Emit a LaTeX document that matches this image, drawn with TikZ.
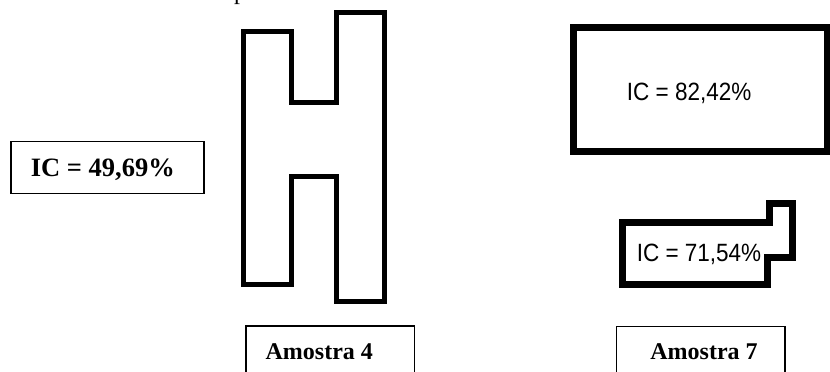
\documentclass[tikz,border=0pt]{standalone}
\usepackage{fontspec}
\setmainfont{Liberation Serif}
\newfontfamily\arialf{Liberation Sans}
\begin{document}
\begin{tikzpicture}[x=1pt,y=-1pt,
  thinbox/.style={draw=black,line width=1.3pt,inner sep=0pt,fill=none},
  serlab/.style={font=\bfseries\fontsize{24}{28}\selectfont,inner sep=0pt,anchor=base},
  sanslab/.style={font=\arialf\fontsize{25}{29}\selectfont,inner sep=0pt,anchor=base,xscale=0.9},
  shapeline/.style={draw=black,line join=miter}]
\useasboundingbox (0,0) rectangle (830,372);
\clip (0,0) rectangle (830,372);
% partial text at top
\node[font=\fontsize{24}{28}\selectfont,inner sep=0pt,anchor=base] (ptxt) at (240,-0.5) {p};
% H shape (Amostra 4)
\draw[shapeline,line width=5pt] (243.5,31) -- (291.5,31) -- (291.5,102.5) -- (336.5,102.5)
  -- (336.5,12.3) -- (384.5,12.3) -- (384.5,301.5) -- (336.5,301.5) -- (336.5,176.5)
  -- (291.5,176.5) -- (291.5,284.5) -- (243.5,284.5) -- cycle;
% IC 49,69 box
\node[thinbox,minimum width=193pt,minimum height=52pt] (box49) at (107.5,167.2) {};
\node[serlab,font=\bfseries\fontsize{26.5}{30}\selectfont] (t49) at (102.8,176.7) {IC = 49,69\%};
% Amostra boxes
\node[thinbox,minimum width=168.3pt,minimum height=60pt] (boxA4) at (330.2,356) {};
\node[serlab] (tA4) at (319.3,359.3) {Amostra 4};
\node[thinbox,minimum width=168.3pt,minimum height=60pt] (boxA7) at (700.9,356.7) {};
\node[serlab] (tA7) at (704,359.3) {Amostra 7};
% big rectangle (Amostra 7)
\draw[shapeline,line width=7.5pt] (573.3,27.5) rectangle (828,151.4);
\node[sanslab] (t82) at (689.2,100) {IC = 82,42\%};
% small stepped shape
\draw[shapeline,line width=7pt] (622.5,222.7) -- (769.5,222.7) -- (769.5,203.3) -- (792,203.3)
  -- (792,257) -- (767.5,257) -- (767.5,284) -- (622.5,284) -- cycle;
\node[sanslab] (t71) at (699,261.7) {IC = 71,54\%};
\end{tikzpicture}
\end{document}
